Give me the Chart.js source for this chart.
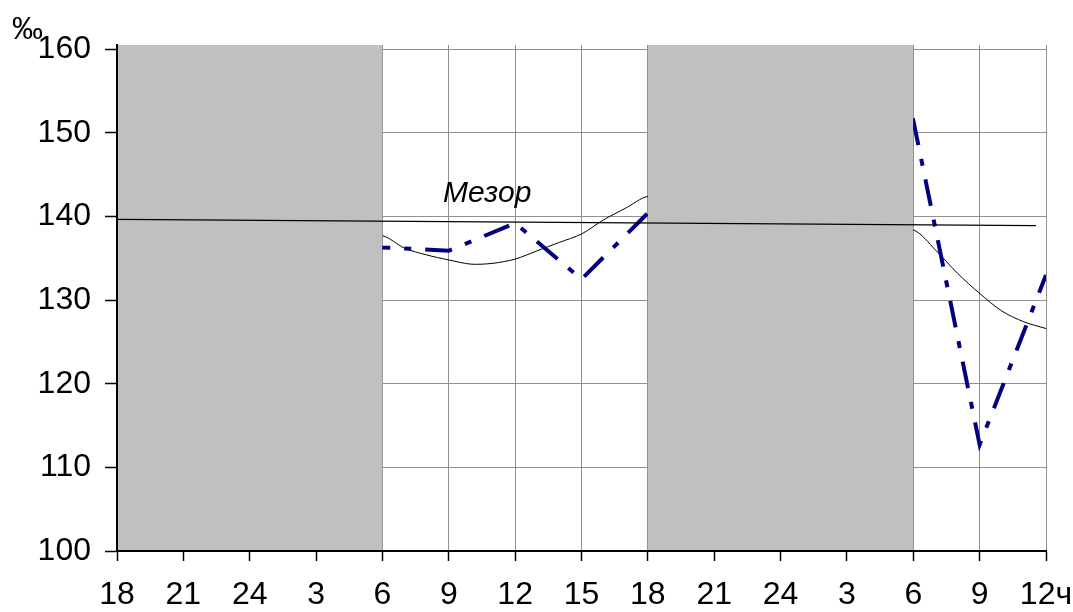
<!DOCTYPE html>
<html>
<head>
<meta charset="utf-8">
<script src="https://cdn.jsdelivr.net/npm/chart.js@4.4.1/dist/chart.umd.min.js"></script>
<style>
  html, body { margin: 0; padding: 0; background: #fff; }
  #wrap { width: 1073px; height: 612px; position: relative; }
</style>
</head>
<body>
<div id="wrap"><canvas id="c"></canvas></div>
<script>
// ---- data (x in hours from the first 18:00) ----
const xTickLabels = ['18','21','24','3','6','9','12','15','18','21','24','3','6','9','12ч'];

const navyHours  = [0, 3, 6, 9, 12, 15, 18, 21, 24, 27, 30, 33, 36, 39, 42];
const navyValues = [136.1, 137, 138, 137, 136.3, 135.9, 139.2, 132.5, 140.4, 145, 148, 150, 151.5, 112.7, 133.0];

const curveHours  = [0, 3, 6, 9, 12, 13, 14, 15, 16, 17, 18, 19, 20, 21, 22, 23, 24, 27, 30, 33, 36, 37, 38, 39, 40, 41, 42];
const curveValues = [133.8, 135, 137, 138.5, 137.7, 136.2, 135.4, 134.8, 134.3, 134.4, 134.9, 135.9, 136.9, 137.9, 139.6, 141.0, 142.4, 143, 142, 140, 138.4, 136.0, 133.2, 130.8, 128.7, 127.4, 126.6];

const mesorHours  = [0, 41.55];
const mesorValues = [139.65, 138.9];

const nightStart = [0, 24];
const nightEnd   = [12, 36];

const yMin = 100, yMax = 160.5, yStep = 10;
const mesorLabel = 'Мезор';
const mesorLabelAt = [14.74, 141.7];
const unitLabel = '‰';

// ---- build datasets ----
const pts = (xs, ys) => xs.map((x, i) => ({x, y: ys[i]}));

const nightSets = nightStart.map((s, i) => ({
  data: [{x: s, y: yMax}, {x: nightEnd[i], y: yMax}],
  fill: 'start',
  backgroundColor: '#c0c0c0',
  borderColor: 'rgba(0,0,0,0)',
  borderWidth: 1,
  pointRadius: 0,
  order: 1
}));

const textMarks = {
  id: 'textMarks',
  afterDatasetsDraw(chart) {
    const {ctx, chartArea, scales: {x, y}} = chart;
    ctx.save();
    ctx.fillStyle = '#000';
    ctx.textBaseline = 'alphabetic';
    ctx.textAlign = 'left';
    ctx.font = 'italic 30px "Liberation Sans", Arial, sans-serif';
    ctx.fillText(mesorLabel, x.getPixelForValue(mesorLabelAt[0]), y.getPixelForValue(mesorLabelAt[1]));
    ctx.font = '31px "Liberation Sans", Arial, sans-serif';
    ctx.fillText(unitLabel, chartArea.left - 105, y.getPixelForValue(160) - 10);
    ctx.restore();
  }
};

new Chart(document.getElementById('c'), {
  type: 'line',
  data: {
    datasets: [
      {
        data: pts(mesorHours, mesorValues),
        borderColor: '#000',
        borderWidth: 1.2,
        pointRadius: 0,
        fill: false,
        order: 0
      },
      ...nightSets,
      {
        data: pts(navyHours, navyValues),
        borderColor: '#000080',
        borderWidth: 4,
        borderDash: [27, 14, 7, 14],
        borderCapStyle: 'butt',
        pointRadius: 0,
        fill: false,
        tension: 0,
        order: 2
      },
      {
        data: pts(curveHours, curveValues),
        borderColor: '#000',
        borderWidth: 1,
        pointRadius: 0,
        fill: false,
        tension: 0.3,
        order: 3
      }
    ]
  },
  options: {
    responsive: true,
    maintainAspectRatio: false,
    animation: false,
    devicePixelRatio: 1,
    layout: { padding: { left: 38, right: 27, top: 45, bottom: 0 } },
    plugins: { legend: { display: false }, tooltip: { enabled: false }, title: { display: false } },
    scales: {
      x: {
        type: 'linear',
        min: 0,
        max: 42,
        afterFit: s => { s.height = 61; s.paddingLeft = 0; s.paddingRight = 0; },
        grid: { color: '#909090', lineWidth: 1, tickLength: 10, tickColor: '#000', tickWidth: 1.5 },
        border: { display: true, color: '#000', width: 2, z: 1 },
        ticks: {
          stepSize: 3,
          autoSkip: false,
          maxRotation: 0,
          padding: 18.5,
          color: '#000',
          font: { family: '"Liberation Sans", Arial, sans-serif', size: 32, lineHeight: 1 },
          callback: (v, i) => xTickLabels[i]
        }
      },
      y: {
        min: yMin,
        max: yMax,
        afterFit: s => { s.width = 79; s.paddingTop = 0; s.paddingBottom = 0; },
        grid: { color: '#909090', lineWidth: 1, tickLength: 12, tickColor: '#000', tickWidth: 1.5 },
        border: { display: true, color: '#000', width: 2, z: 1 },
        ticks: {
          stepSize: yStep,
          includeBounds: false,
          padding: 14,
          color: '#000',
          font: { family: '"Liberation Sans", Arial, sans-serif', size: 32, lineHeight: 1 }
        }
      }
    }
  },
  plugins: [textMarks]
});
</script>
</body>
</html>
